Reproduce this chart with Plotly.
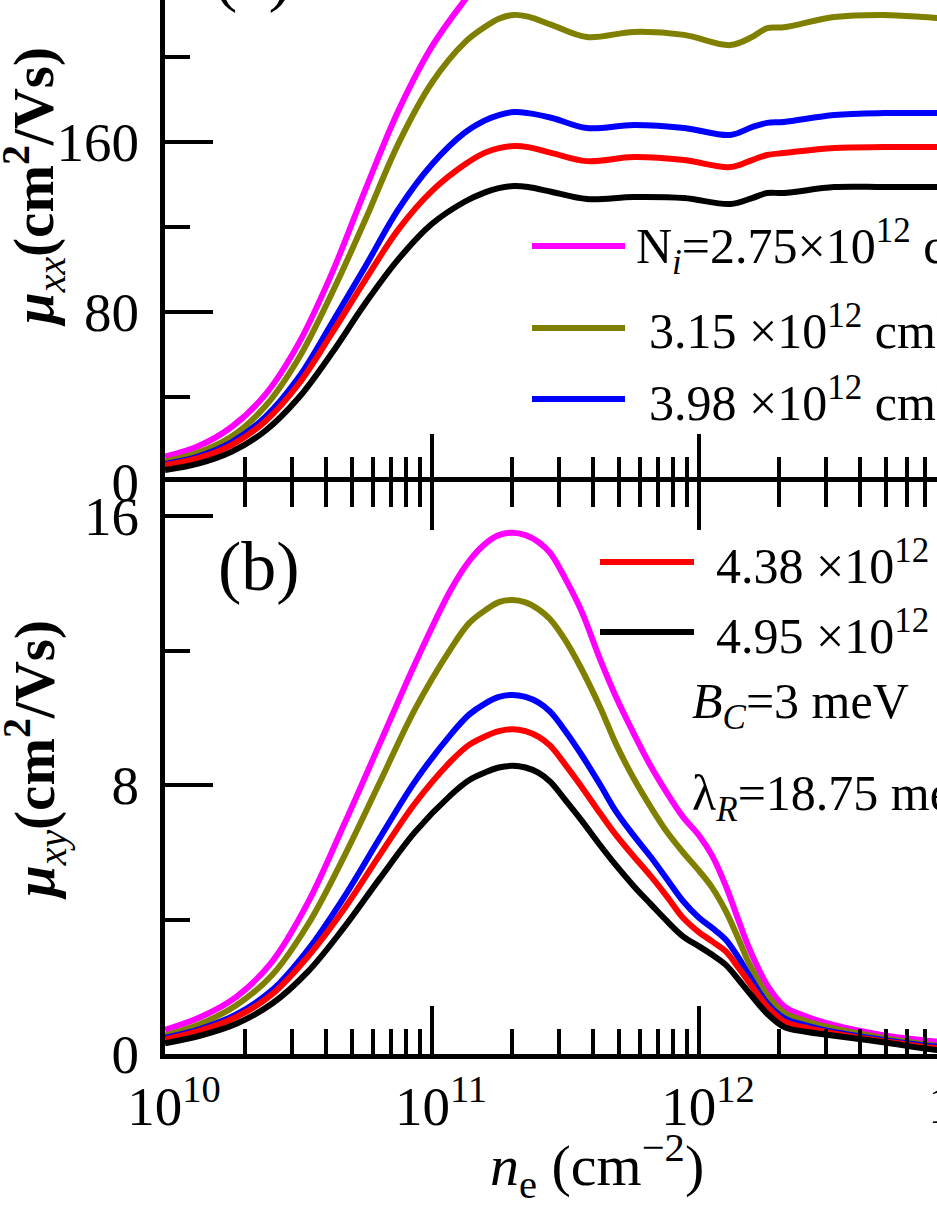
import plotly.graph_objects as go

# ---------------- data ----------------
ne_a = [1.00e10, 1.33e10, 1.78e10, 2.37e10, 3.16e10, 4.22e10, 5.62e10, 7.50e10, 1.00e11,
        1.33e11, 1.58e11, 1.78e11, 2.03e11, 2.29e11, 2.82e11, 3.80e11, 5.71e11, 8.79e11,
        1.31e12, 1.58e12, 1.80e12, 2.08e12, 3.21e12, 4.93e12, 7.78e12, 1.00e13]
mu_xx_275 = [11.9, 16.8, 26.0, 41.0, 65.0, 98.3, 137.4, 175.0, 205.0, 227.0, 239.0, 246.5,
             251.0, 250.0, 246.0, 240.0, 241.5, 240.5, 235.5, 241.0, 245.0, 245.5, 250.0,
             251.0, 250.5, 250.5]
mu_xx_315 = [9.6, 13.8, 21.5, 35.5, 58.0, 88.9, 123.3, 159.5, 188.0, 207.0, 214.2, 218.0,
             219.8, 219.0, 215.0, 209.4, 211.8, 210.4, 205.6, 209.4, 213.6, 214.0, 218.8,
             219.8, 218.4, 218.2]
mu_xx_398 = [8.5, 12.0, 18.8, 30.5, 49.0, 74.8, 101.3, 128.5, 149.5, 164.5, 170.2, 172.7,
             174.1, 173.6, 171.3, 166.6, 168.0, 166.6, 163.3, 167.0, 169.0, 169.4, 172.7,
             173.6, 173.6, 173.5]
mu_xx_438 = [8.0, 11.2, 17.5, 28.5, 46.0, 70.0, 95.0, 119.0, 137.0, 149.5, 155.0, 157.1,
             158.1, 157.6, 154.8, 151.0, 152.9, 151.5, 148.2, 151.5, 153.9, 154.8, 157.2,
             157.6, 157.6, 157.6]
mu_xx_495 = [5.6, 8.6, 14.3, 24.0, 39.5, 60.7, 84.0, 105.0, 121.5, 132.0, 136.3, 138.3,
             139.3, 138.8, 136.5, 133.2, 134.1, 133.6, 130.8, 133.6, 136.0, 136.0, 138.8,
             138.8, 138.8, 138.8]

ne_b = [1.00e10, 1.36e10, 1.85e10, 2.52e10, 3.43e10, 4.67e10, 6.35e10, 8.63e10, 1.175e11,
        1.38e11, 1.585e11, 1.78e11, 2.00e11, 2.24e11, 2.51e11, 2.77e11, 3.16e11, 3.63e11,
        4.27e11, 4.90e11, 5.69e11, 6.61e11, 7.59e11, 8.71e11, 1.00e12, 1.12e12, 1.26e12,
        1.41e12, 1.55e12, 1.80e12, 2.09e12, 2.51e12, 3.16e12, 4.90e12, 7.76e12, 1.00e13]
mu_xy_275 = [0.72, 1.1, 1.7, 2.75, 4.5, 6.8, 9.2, 11.6, 13.8, 14.67, 15.18, 15.43,
             15.5, 15.43, 15.22, 14.9, 14.13, 13.17, 11.72, 10.6, 9.54, 8.55, 7.76, 7.05, 6.5,
             5.9, 5.0, 3.95, 3.1, 2.05, 1.41, 1.12, 0.87, 0.56, 0.37, 0.3]
mu_xy_315 = [0.55, 0.9, 1.45, 2.35, 3.85, 5.85, 8.05, 10.25, 12.05, 12.82, 13.2, 13.44,
             13.5, 13.43, 13.22, 12.93, 12.3, 11.45, 10.3, 9.2, 8.2, 7.33, 6.6, 6.0, 5.45,
             4.95, 4.25, 3.4, 2.65, 1.75, 1.22, 0.98, 0.77, 0.48, 0.25, 0.2]
mu_xy_398 = [0.48, 0.75, 1.18, 1.9, 3.1, 4.65, 6.4, 8.1, 9.5, 10.1, 10.43, 10.62,
             10.68, 10.62, 10.45, 10.18, 9.6, 8.9, 8.0, 7.2, 6.5, 5.85, 5.2, 4.55, 4.05,
             3.75, 3.4, 2.85, 2.3, 1.51, 1.06, 0.85, 0.66, 0.42, 0.22, 0.18]
mu_xy_438 = [0.43, 0.7, 1.1, 1.78, 2.9, 4.3, 5.9, 7.45, 8.7, 9.2, 9.45, 9.6,
             9.66, 9.6, 9.43, 9.17, 8.6, 7.95, 7.15, 6.5, 5.88, 5.28, 4.68, 4.05, 3.62,
             3.35, 3.05, 2.55, 2.1, 1.41, 0.96, 0.78, 0.62, 0.38, 0.17, 0.14]
mu_xy_495 = [0.32, 0.55, 0.9, 1.5, 2.45, 3.75, 5.2, 6.6, 7.7, 8.15, 8.38, 8.52,
             8.57, 8.52, 8.36, 8.1, 7.55, 6.95, 6.2, 5.6, 5.0, 4.45, 3.95, 3.5, 3.2,
             2.95, 2.65, 2.2, 1.8, 1.2, 0.8, 0.66, 0.55, 0.35, 0.12, 0.1]

legend_labels = ["N<sub><i>i</i></sub>=2.75×10<sup>12</sup> cm<sup>−2</sup>",
                 "3.15 ×10<sup>12</sup> cm<sup>−2</sup>",
                 "3.98 ×10<sup>12</sup> cm<sup>−2</sup>",
                 "4.38 ×10<sup>12</sup> cm<sup>−2</sup>",
                 "4.95 ×10<sup>12</sup> cm<sup>−2</sup>"]
colors = ["#FF00FF", "#808000", "#0000FF", "#FF0000", "#000000"]

x_major = [1e10, 1e11, 1e12, 1e13]
x_major_text = ["10<sup>10</sup>", "10<sup>11</sup>", "10<sup>12</sup>", "10<sup>13</sup>"]
x_minor = [m * 10 ** e for e in (10, 11, 12) for m in range(2, 10)]

# ---------------- layout geometry (pixels) ----------------
W, H = 937, 1213
L, R, T, B = 165, 0, 0, 159
PW, PH = W - L - R, H - T - B
split_px = 482          # y pixel of boundary between panels
ya0 = (H - B - split_px) / PH

def px(xp):
    return (xp - L) / PW

def py(yp):
    return (H - B - yp) / PH

FONT = "Liberation Serif, Times New Roman, serif"
fig = go.Figure()

series_a = [mu_xx_275, mu_xx_315, mu_xx_398, mu_xx_438, mu_xx_495]
series_b = [mu_xy_275, mu_xy_315, mu_xy_398, mu_xy_438, mu_xy_495]
for ya, c in zip(series_a, colors):
    fig.add_trace(go.Scatter(x=ne_a, y=ya, mode="lines", xaxis="x", yaxis="y",
                             line=dict(color=c, width=6, shape="spline", smoothing=1.0),
                             showlegend=False, hoverinfo="skip"))
for yb, c in zip(series_b, colors):
    fig.add_trace(go.Scatter(x=ne_b, y=yb, mode="lines", xaxis="x2", yaxis="y2",
                             line=dict(color=c, width=6, shape="spline", smoothing=1.0),
                             showlegend=False, hoverinfo="skip"))

xr = [10, 10 + PW / 267.0]
common_x = dict(type="log", range=xr, showgrid=False, zeroline=False,
                linecolor="black", linewidth=5, tickcolor="black", tickwidth=4,
                tickmode="array", tickvals=x_major, ticktext=x_major_text,
                ticks="inside", ticklen=48,
                minor=dict(tickmode="array", tickvals=x_minor, ticks="inside",
                           ticklen=25, tickwidth=4, tickcolor="black"),
                tickfont=dict(family=FONT, size=55, color="black"), automargin=False)
common_y = dict(showgrid=False, zeroline=False, showline=True, linecolor="black",
                linewidth=5, ticks="inside", ticklen=48, tickwidth=4, tickcolor="black",
                tickfont=dict(family=FONT, size=55, color="black"), automargin=False,
                ticklabelstandoff=10)

fig.update_layout(
    width=W, height=H, margin=dict(l=L, r=R, t=T, b=B, pad=0),
    paper_bgcolor="white", plot_bgcolor="white", showlegend=False,
    xaxis=dict(common_x, domain=[0, 1], anchor="y", showticklabels=False, showline=False),
    yaxis=dict(common_y, domain=[ya0, 1], anchor="x", range=[0, (split_px - T) / (170 / 80)],
               tickmode="linear", tick0=0, dtick=80,
               minor=dict(ticks="inside", ticklen=25, tickwidth=4, tickcolor="black",
                          tick0=0, dtick=40)),
    xaxis2=dict(common_x, domain=[0, 1], anchor="y2", matches="x", mirror="ticks",
                showline=True, ticklabelstandoff=0, ticklabelshift=9),
    yaxis2=dict(common_y, domain=[0, ya0], anchor="x2", range=[0, (H - B - split_px) / (269 / 8)],
                tickmode="linear", tick0=0, dtick=8,
                minor=dict(ticks="inside", ticklen=25, tickwidth=4, tickcolor="black",
                           tick0=0, dtick=4)),
)

ann = []
# axis titles
ann.append(dict(text="<b><i>μ</i></b><sub><i>xx</i></sub><b>(cm<sup>2</sup>/Vs)</b>",
                x=px(34), y=py(187), textangle=-90))
ann.append(dict(text="<b><i>μ</i></b><sub><i>xy</i></sub><b>(cm<sup>2</sup>/Vs)</b>",
                x=px(34), y=py(760), textangle=-90))
for a in ann:
    a.update(xref="paper", yref="paper", showarrow=False, xanchor="center", yanchor="middle",
             font=dict(family=FONT, size=57, color="black"))
ann.append(dict(text="<i>n</i><sub>e</sub> (cm<sup>−2</sup>)", x=px(597), y=py(1166),
                xref="paper", yref="paper", showarrow=False, xanchor="center", yanchor="middle",
                font=dict(family=FONT, size=58, color="black")))
# cropped 10^13 tick label
ann.append(dict(text="10<sup>13</sup>", x=px(165 + 3 * 267 + 9), y=py(1054), xref="paper",
                yref="paper", showarrow=False, xanchor="center", yanchor="top", yshift=-10,
                font=dict(family=FONT, size=55, color="black")))
# panel labels
ann.append(dict(text="(a)", x=px(253), y=py(-26), xref="paper", yref="paper", showarrow=False,
                xanchor="center", yanchor="middle", font=dict(family=FONT, size=70, color="black")))
ann.append(dict(text="(b)", x=px(259), y=py(566), xref="paper", yref="paper", showarrow=False,
                xanchor="center", yanchor="middle", font=dict(family=FONT, size=70, color="black")))

# legend keys and texts
key_rows = [(532, 625, 246, 634), (532, 625, 328, 647), (532, 625, 399, 647),
            (600, 694, 562, 714), (600, 694, 632, 714)]
shapes = []
for (x0, x1, yk, xt), c, lab in zip(key_rows, colors, legend_labels):
    shapes.append(dict(type="line", xref="paper", yref="paper", x0=px(x0), x1=px(x1),
                       y0=py(yk), y1=py(yk), line=dict(color=c, width=6)))
    ann.append(dict(text=lab, x=px(xt), y=py(yk), xref="paper", yref="paper", showarrow=False,
                    xanchor="left", yanchor="middle",
                    font=dict(family=FONT, size=50, color="black")))
ann.append(dict(text="<i>B</i><sub><i>C</i></sub>=3 meV", x=px(690), y=py(705), xref="paper",
                yref="paper", showarrow=False, xanchor="left", yanchor="middle",
                font=dict(family=FONT, size=50, color="black")))
ann.append(dict(text="λ<sub><i>R</i></sub>=18.75 meV", x=px(690), y=py(797), xref="paper",
                yref="paper", showarrow=False, xanchor="left", yanchor="middle",
                font=dict(family=FONT, size=50, color="black")))

fig.update_layout(annotations=ann, shapes=shapes)
fig.write_html("out.html", config={"displayModeBar": False, "staticPlot": True},
               post_script="document.body.style.margin='0';document.body.style.overflow='hidden';")
